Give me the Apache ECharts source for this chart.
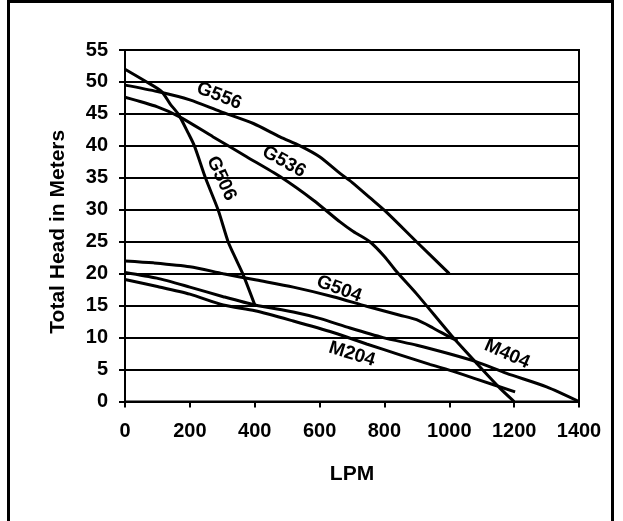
<!DOCTYPE html>
<html>
<head>
<meta charset="utf-8">
<script src="https://cdn.jsdelivr.net/npm/echarts@6/dist/echarts.min.js"></script>
<style>
html,body{margin:0;padding:0;background:#fff;}
#c{width:623px;height:521px;}
</style>
</head>
<body>
<div id="c"></div>
<script>
// Data (LPM, head in meters)
var xTicks = [0, 200, 400, 600, 800, 1000, 1200, 1400];
var yTicks = [0, 5, 10, 15, 20, 25, 30, 35, 40, 45, 50, 55];

var G556 = [[0,49.5],[100,48.5],[200,47.2],[293,45.4],[396,43.5],[478,41.4],[540,40],[600,38.3],[663,35.7],[700,34.3],[755,31.9],[807,29.6],[899,25],[1000,20]];
var G536 = [[0,47.6],[100,46.1],[170,44.5],[272,41.4],[375,38.3],[478,35.2],[581,31.5],[663,28.1],[704,26.6],[755,25],[800,22.7],[838,20.3],[900,16.8],[1012,10],[1084,6],[1156,2.1],[1200,0]];
var G506 = [[0,52],[67,50],[113,48.5],[140,46.5],[164,45],[195,42],[214,40],[248,35],[287,30],[318,25],[340,22.5],[363,20],[401,15]];
var G504 = [[0,22],[87,21.7],[200,21.1],[303,20],[406,19],[519,17.9],[642,16.4],[745,14.9],[848,13.5],[899,12.8],[950,11.5],[1000,10.1],[1025,9.5]];
var M404 = [[0,20.2],[98,19.3],[200,17.9],[303,16.4],[401,15.1],[519,14],[600,13],[694,11.5],[796,10],[900,8.8],[997,7.5],[1084,6.2],[1177,4.4],[1300,2.3],[1400,0]];
var M204 = [[0,19.1],[100,18],[200,16.8],[303,15.1],[401,14.2],[519,12.6],[642,10.8],[745,9.0],[848,7.3],[940,5.8],[1000,4.9],[1084,3.5],[1203,1.5]];

var seriesNames = ['G556','G536','G506','G504','M404','M204'];
var seriesData = [G556, G536, G506, G504, M404, M204];
// label anchor (data coords) and rotation (deg, ccw positive)
var labelPos = [[290,47.8],[490,37.5],[297,34.9],[660,17.6],[1178,7.4],[700,7.4]];
var labelRot = [-21,-29,-65,-20,-24,-17];

var FONT = '"Liberation Sans", Arial, sans-serif';

var series = seriesNames.map(function(n, i){
  return {
    name: n,
    type: 'line',
    data: seriesData[i],
    smooth: 0.25,
    showSymbol: false,
    symbol: 'none',
    lineStyle: {color: '#000', width: 3},
    z: 5,
    markPoint: {
      symbol: 'circle',
      symbolSize: 0,
      silent: true,
      data: [{coord: labelPos[i], value: n}],
      label: {
        show: true,
        position: 'inside',
        formatter: n,
        rotate: labelRot[i],
        color: '#000',
        fontWeight: 'bold',
        fontSize: 19,
        fontFamily: FONT
      }
    }
  };
});

var chart = echarts.init(document.getElementById('c'));
chart.setOption({
  animation: false,
  backgroundColor: '#fff',
  graphic: [{
    type: 'rect',
    shape: {x: 8.5, y: 1.5, width: 604, height: 560},
    style: {fill: 'none', stroke: '#000', lineWidth: 3},
    silent: true,
    z: 0
  }],
  grid: {
    left: 125, right: 44, top: 50, bottom: 119.5,
    show: true, borderColor: '#000', borderWidth: 2, backgroundColor: 'transparent'
  },
  xAxis: {
    type: 'value',
    min: xTicks[0], max: xTicks[xTicks.length-1], interval: xTicks[1]-xTicks[0],
    name: 'LPM', nameLocation: 'middle', nameGap: 62,
    nameTextStyle: {color: '#000', fontWeight: 'bold', fontSize: 21, fontFamily: FONT},
    axisLine: {lineStyle: {color: '#000', width: 2}},
    axisTick: {show: true, length: 6, lineStyle: {color: '#000', width: 2}},
    axisLabel: {color: '#000', fontWeight: 'bold', fontSize: 20, fontFamily: FONT, margin: 20,
      formatter: function(v){ return String(v); }},
    splitLine: {show: false}
  },
  yAxis: {
    type: 'value',
    min: yTicks[0], max: yTicks[yTicks.length-1], interval: yTicks[1]-yTicks[0],
    name: 'Total Head in Meters', nameLocation: 'middle', nameGap: 56, nameRotate: 90,
    nameTextStyle: {color: '#000', fontWeight: 'bold', fontSize: 21, fontFamily: FONT, padding: [0,12,0,0]},
    axisLine: {show: true, lineStyle: {color: '#000', width: 2}},
    axisTick: {show: true, length: 6, lineStyle: {color: '#000', width: 2}},
    axisLabel: {color: '#000', fontWeight: 'bold', fontSize: 20, fontFamily: FONT, margin: 17,
      formatter: function(v){ return String(v); }},
    splitLine: {show: true, lineStyle: {color: '#000', width: 2}}
  },
  series: series
});
</script>
</body>
</html>
